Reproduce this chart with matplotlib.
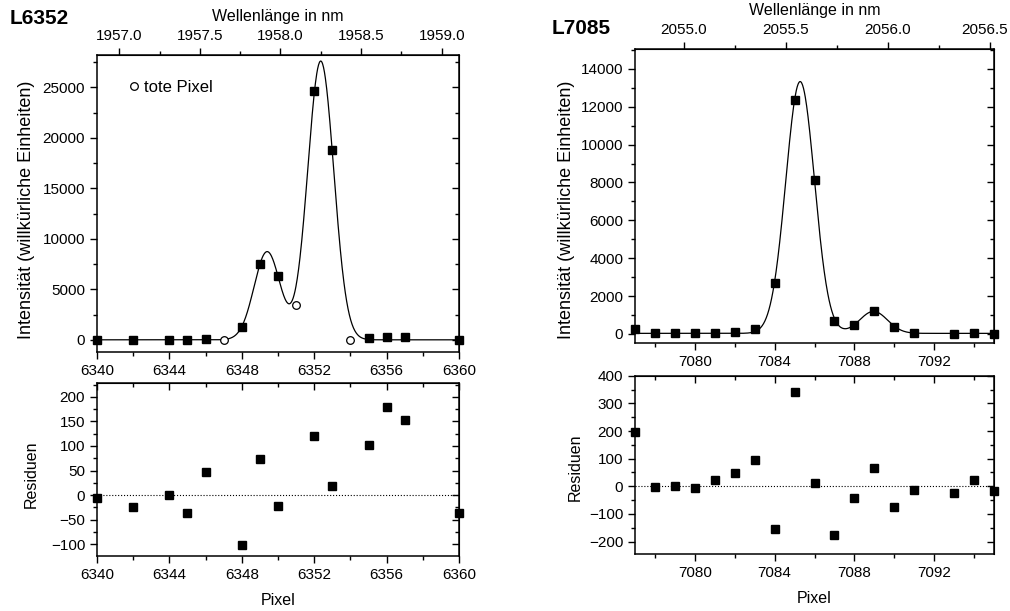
import numpy as np
import matplotlib
matplotlib.use("Agg")
import matplotlib.pyplot as plt
from matplotlib.ticker import MultipleLocator
from matplotlib.lines import Line2D

plt.rcParams['font.family'] = ['Liberation Sans', 'DejaVu Sans']

# L6352 measured points
pix_a = [6340, 6342, 6344, 6345, 6346, 6348, 6349, 6350, 6352, 6353, 6355, 6356, 6357, 6360]
int_a = [0, 0, 0, -50, 100, 1300, 7550, 6280, 24630, 18780, 200, 250, 250, 0]
res_a = [-5, -25, 0, -37, 48, -101, 74, -23, 120, 18, 101, 180, 152, -37]
# dead pixels ("tote Pixel")
dead_pix_a = [6347, 6351, 6354]
dead_int_a = [0, 3400, -50]
# fitted gaussians (center, height, sigma)
fit_cen_a = [6349.4, 6352.36]
fit_amp_a = [8730, 27600]
fit_sig_a = [0.72, 0.72]
fit_base_a = 0

# L7085 measured points
pix_b = [7077, 7078, 7079, 7080, 7081, 7082, 7083, 7084, 7085, 7086, 7087, 7088, 7089, 7090, 7091, 7093, 7094, 7095]
int_b = [246, 35, 35, 35, 70, 88, 246, 2675, 12355, 8114, 686, 458, 1197, 370, 35, 18, 70, 18]
res_b = [198, -2, 2, -5, 22, 48, 94, -153, 343, 11, -176, -43, 65, -75, -13, -23, 22, -18]
fit_cen_b = [7085.28, 7088.96]
fit_amp_b = [13300, 1160]
fit_sig_b = [0.72, 0.70]
fit_base_b = 30

# pixel -> wavelength calibration and the wavelength ticks
wl0_a, p0_a, disp_a = 1957.0, 6341.23, 0.11228
wl0_b, p0_b, disp_b = 2055.0, 7079.46, 0.09789
wl_ticks_a = [1957.0, 1957.5, 1958.0, 1958.5, 1959.0]
wl_ticks_b = [2055.0, 2055.5, 2056.0]
wl_edge_b = 2056.5  # sits at the figure edge, drawn by hand

TICK_FS = 11


def gauss_sum(x, cen, amp, sig, base):
	y = np.full_like(x, base, dtype=float)
	for c, a, s in zip(cen, amp, sig):
		y += a * np.exp(-(x - c) ** 2 / (2 * s ** 2))
	return y


def mirror_ticks(ax, xmaj, xmin, ymaj, ymin, top=True):
	# inward ticks on the right (and top) side, like Origin does
	sy = ax.secondary_yaxis('right')
	sy.yaxis.set_major_locator(MultipleLocator(ymaj))
	sy.yaxis.set_minor_locator(MultipleLocator(ymin))
	sy.tick_params(which='both', direction='in', labelright=False, width=1)
	sy.tick_params(which='major', length=5)
	sy.tick_params(which='minor', length=3)
	if top:
		sx = ax.secondary_xaxis('top')
		sx.xaxis.set_major_locator(MultipleLocator(xmaj))
		sx.xaxis.set_minor_locator(MultipleLocator(xmin))
		sx.tick_params(which='both', direction='in', labeltop=False, width=1)
		sx.tick_params(which='major', length=5)
		sx.tick_params(which='minor', length=3)


def style(ax, xmaj, xmin, ymaj, ymin):
	ax.xaxis.set_major_locator(MultipleLocator(xmaj))
	ax.xaxis.set_minor_locator(MultipleLocator(xmin))
	ax.yaxis.set_major_locator(MultipleLocator(ymaj))
	ax.yaxis.set_minor_locator(MultipleLocator(ymin))
	ax.tick_params(which='both', direction='out', labelsize=TICK_FS, width=1)
	ax.tick_params(which='major', length=5)
	ax.tick_params(which='minor', length=3)
	for sp in ax.spines.values():
		sp.set_linewidth(1.1)


def wl_axis(ax, wl0, p0, disp, ticks, extra=()):
	f = lambda p: wl0 + (p - p0) * disp
	g = lambda w: p0 + (w - wl0) / disp
	sx = ax.secondary_xaxis('top', functions=(f, g))
	# labelled ticks + unlabelled ones (for the label drawn by hand)
	allt = list(ticks) + list(extra)
	sx.set_xticks(allt, ["%.1f" % t for t in ticks] + [""] * len(extra))
	sx.xaxis.set_minor_locator(MultipleLocator(0.25))
	sx.tick_params(which='both', direction='out', labelsize=TICK_FS, width=1)
	sx.tick_params(which='major', length=5)
	sx.tick_params(which='minor', length=3)
	sx.set_xlabel("Wellenlänge in nm", fontsize=11.5, labelpad=6)
	return sx


fig = plt.figure(figsize=(10.1, 6.11), dpi=100)

# ---------- left: L6352 ----------
ax1 = fig.add_axes([0.096, 0.424, 0.3585, 0.486])
xs = np.linspace(6340, 6360, 800)
ax1.plot(xs, gauss_sum(xs, fit_cen_a, fit_amp_a, fit_sig_a, fit_base_a), color='black', lw=0.9)
ax1.plot(pix_a, int_a, 's', color='black', ms=5.5, clip_on=False, zorder=3)
ax1.plot(dead_pix_a, dead_int_a, 'o', mfc='white', mec='black', mew=0.9, ms=5.5, clip_on=False, zorder=3)
ax1.set_xlim(6340, 6360)
ax1.set_ylim(-1200, 28200)
style(ax1, 4, 2, 5000, 2500)
mirror_ticks(ax1, 4, 2, 5000, 2500, top=False)
wl_axis(ax1, wl0_a, p0_a, disp_a, wl_ticks_a)
ax1.set_ylabel("Intensität (willkürliche Einheiten)", fontsize=13)
ax1.yaxis.set_label_coords(-0.171, 0.478)
h = Line2D([], [], ls='none', marker='o', mfc='white', mec='black', mew=0.9, ms=5.5)
ax1.legend([h], ["tote Pixel"], loc='center left', bbox_to_anchor=(0.062, 0.892), frameon=False,
	handlelength=1.0, handletextpad=0.05, fontsize=12, borderaxespad=0)
fig.text(0.01, 0.969, "L6352", fontsize=15, fontweight='bold', va='center')

ax2 = fig.add_axes([0.096, 0.09, 0.3585, 0.283])
ax2.plot(pix_a, res_a, 's', color='black', ms=5.5, clip_on=False, zorder=3)
ax2.axhline(0, color='black', lw=0.8, ls=':')
ax2.set_xlim(6340, 6360)
ax2.set_ylim(-124, 228)
style(ax2, 4, 2, 50, 25)
mirror_ticks(ax2, 4, 2, 50, 25)
ax2.set_ylabel("Residuen", fontsize=11.5)
ax2.yaxis.set_label_coords(-0.160, 0.474)
ax2.set_xlabel("Pixel", fontsize=11.5, labelpad=8)

# ---------- right: L7085 ----------
ax3 = fig.add_axes([0.6287, 0.4386, 0.3555, 0.4812])
xs = np.linspace(7077, 7095, 800)
ax3.plot(xs, gauss_sum(xs, fit_cen_b, fit_amp_b, fit_sig_b, fit_base_b), color='black', lw=0.9)
ax3.plot(pix_b, int_b, 's', color='black', ms=5.5, clip_on=False, zorder=3)
ax3.set_xlim(7077, 7095)
ax3.set_ylim(-480, 15050)
style(ax3, 4, 2, 2000, 1000)
mirror_ticks(ax3, 4, 2, 2000, 1000, top=False)
wl_axis(ax3, wl0_b, p0_b, disp_b, wl_ticks_b, extra=[wl_edge_b])
# the last wavelength label is nudged left so it stays inside the figure
ax3.annotate("%.1f" % wl_edge_b, xy=(p0_b + (wl_edge_b - wl0_b) / disp_b, 1),
	xycoords=('data', 'axes fraction'), xytext=(-4, 8.5), textcoords='offset points',
	ha='center', va='bottom', fontsize=TICK_FS, annotation_clip=False)
ax3.set_ylabel("Intensität (willkürliche Einheiten)", fontsize=13)
ax3.yaxis.set_label_coords(-0.167, 0.452)
fig.text(0.546, 0.953, "L7085", fontsize=15, fontweight='bold', va='center')

ax4 = fig.add_axes([0.6287, 0.0928, 0.3555, 0.2922])
ax4.plot(pix_b, res_b, 's', color='black', ms=5.5, clip_on=False, zorder=3)
ax4.axhline(0, color='black', lw=0.8, ls=':')
ax4.set_xlim(7077, 7095)
ax4.set_ylim(-246, 400)
style(ax4, 4, 2, 100, 50)
mirror_ticks(ax4, 4, 2, 100, 50)
ax4.set_ylabel("Residuen", fontsize=11.5)
ax4.yaxis.set_label_coords(-0.145, 0.489)
ax4.set_xlabel("Pixel", fontsize=11.5, labelpad=8)

fig.savefig("out.png", dpi=100)
